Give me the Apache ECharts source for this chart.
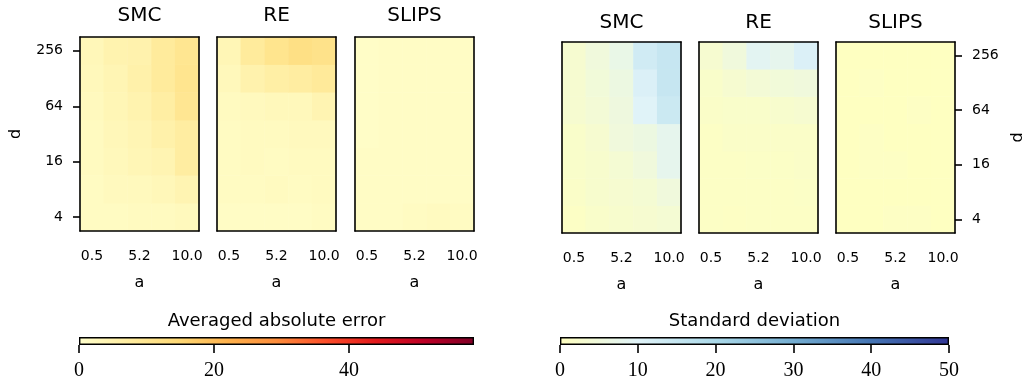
<!DOCTYPE html>
<html>
<head>
<meta charset="utf-8">
<script src="https://cdn.jsdelivr.net/npm/echarts@6/dist/echarts.min.js"></script>
<style>
  html, body { margin: 0; padding: 0; background: #fff; }
  #chart { width: 1026px; height: 379px; }
</style>
</head>
<body>
<div id="chart"></div>
<script>
// grid values: a along x, d along y (rows listed from d=4 up to d=256)
var aLabels = ['0.5', '2.9', '5.2', '7.6', '10.0'];
var dLabels = ['4', '8', '16', '32', '64', '128', '256'];
var methods = ['SMC', 'RE', 'SLIPS'];

var errSMC = [
  [1.6, 1.7, 2, 2, 2.5],
  [1.7, 2.4, 2.5, 3.2, 4.4],
  [2, 2.8, 3.6, 4.4, 7.2],
  [2, 3.2, 4, 5.6, 7.2],
  [2.4, 3.6, 4.8, 6.8, 9.8],
  [2.8, 4, 5.6, 8, 10.2],
  [3.2, 4.8, 5.2, 8, 10]
];
var errRE = [
  [1.2, 1.2, 1.2, 1.2, 1.6],
  [1.6, 1.6, 2, 1.6, 2],
  [1.6, 2, 1.6, 2, 2],
  [1.6, 2, 2, 2.4, 2.4],
  [2, 2.4, 2.8, 2.8, 4.4],
  [2.8, 5.2, 6.4, 7.2, 8.4],
  [3.6, 8, 10.4, 12, 11.2]
];
var errSLIPS = [
  [1.2, 1.2, 1.6, 2, 1.6],
  [1.2, 1.2, 1.2, 1.2, 1.2],
  [1.2, 1.2, 1.2, 1.2, 1.2],
  [0.8, 1.2, 1.2, 1.2, 1.2],
  [0.8, 1.2, 1.2, 1.2, 1.2],
  [0.8, 1.2, 1.2, 1.2, 1.2],
  [0.8, 1.2, 1.2, 1.2, 1.2]
];
var stdSMC = [
  [1, 2, 2.5, 3, 3.5],
  [1.5, 2.5, 3, 3.5, 5],
  [2, 2.5, 3.5, 5, 8],
  [2, 3, 5, 6, 8],
  [3, 4, 5.5, 10, 14],
  [3, 4.5, 6, 11, 15],
  [3, 5, 7, 13, 15]
];
var stdRE = [
  [1, 0.8, 1, 1, 1],
  [1, 1, 1, 1, 1.2],
  [1, 1, 1.2, 1.2, 1.5],
  [1, 1.5, 1.5, 1.5, 1.5],
  [1.5, 2, 2, 2.5, 3],
  [2, 3, 4, 4.5, 5],
  [3, 5, 9, 8, 11]
];
var stdSLIPS = [
  [0.3, 0.3, 0.8, 0.8, 0.3],
  [0.3, 0.3, 0.3, 0.3, 0.3],
  [0.3, 0.8, 0.8, 0.3, 0.3],
  [0.3, 0.8, 0.3, 0.3, 0.3],
  [0.3, 0.3, 0.3, 0.8, 0.3],
  [0.3, 0.8, 0.3, 0.3, 0.3],
  [0.3, 0.3, 0.3, 0.3, 0.3]
];

// colour bars
var errMax = 58.5;
var errTicks = [0, 20, 40];
var stdMax = 50;
var stdTicks = [0, 10, 20, 30, 40, 50];
var errColors = ['#ffffcc', '#ffeda0', '#fed976', '#feb24c', '#fd8d3c', '#fc4e2a', '#e31a1c', '#bd0026', '#800026'];
var stdColors = ['#ffffbf', '#e0f3f8', '#abd9e9', '#74add1', '#4575b4', '#313695'];

var SANS = 'DejaVu Sans';
var SERIF = 'Liberation Serif';

function toCells(m) {
  var out = [];
  m.forEach(function (row, j) {
    row.forEach(function (v, i) { out.push([i, j, v]); });
  });
  return out;
}
function stops(cols) {
  return cols.map(function (c, i) { return { offset: i / (cols.length - 1), color: c }; });
}

var panels = [
  { data: errSMC, left: 80, top: 37, h: 194, yLabels: 'left', tGap: 11 },
  { data: errRE, left: 217, top: 37, h: 194, yLabels: null, tGap: 11 },
  { data: errSLIPS, left: 355, top: 37, h: 194, yLabels: null, tGap: 11 },
  { data: stdSMC, left: 562, top: 42, h: 191, yLabels: null, tGap: 9 },
  { data: stdRE, left: 699, top: 42, h: 191, yLabels: null, tGap: 9 },
  { data: stdSLIPS, left: 836, top: 42, h: 191, yLabels: 'right', tGap: 9 }
];

var grids = [], xAxes = [], yAxes = [], series = [];
var lineStyle = { color: '#000', width: 1.6 };

panels.forEach(function (p, k) {
  var side = k < 3 ? 'left' : 'right';
  grids.push({ left: p.left, top: p.top, width: 119, height: p.h, outerBoundsMode: 'none' });
  xAxes.push({
    type: 'category', gridIndex: k, position: 'bottom', data: aLabels, z: 5,
    axisLine: { lineStyle: lineStyle },
    axisTick: { interval: 1, alignWithLabel: true, length: 7, lineStyle: lineStyle },
    axisLabel: { interval: 1, margin: 18, color: '#000', fontFamily: SANS, fontSize: 14 },
    name: 'a', nameLocation: 'middle', nameGap: 44,
    nameTextStyle: { color: '#000', fontFamily: SANS, fontSize: 16 }
  });
  xAxes.push({
    type: 'category', gridIndex: k, position: 'top', data: aLabels, z: 5,
    axisLine: { lineStyle: lineStyle }, axisTick: { show: false }, axisLabel: { show: false },
    name: methods[k % 3], nameLocation: 'middle', nameGap: p.tGap,
    nameTextStyle: { color: '#000', fontFamily: SANS, fontSize: 20 }
  });
  var withLabels = p.yLabels !== null;
  var main = {
    type: 'category', gridIndex: k, position: side, data: dLabels, z: 5,
    axisLine: { lineStyle: lineStyle },
    axisTick: { show: withLabels, interval: 1, alignWithLabel: true, length: 7, lineStyle: lineStyle },
    axisLabel: { show: withLabels, interval: 1, margin: 17, color: '#000', fontFamily: SANS, fontSize: 14 }
  };
  if (withLabels) {
    main.name = 'd';
    main.nameLocation = 'middle';
    main.nameGap = side === 'left' ? 56 : 55;
    main.nameRotate = 90;
    main.nameTextStyle = { color: '#000', fontFamily: SANS, fontSize: 16 };
  }
  yAxes.push(main);
  yAxes.push({
    type: 'category', gridIndex: k, position: side === 'left' ? 'right' : 'left', data: dLabels, z: 5,
    axisLine: { lineStyle: lineStyle }, axisTick: { show: false }, axisLabel: { show: false }
  });
  series.push({
    type: 'heatmap', xAxisIndex: 2 * k, yAxisIndex: 2 * k,
    data: toCells(p.data), itemStyle: { borderWidth: 0 }, emphasis: { disabled: true }
  });
});

// colour bar grids (indices 6 and 7)
var bars = [
  { left: 79, width: 395, max: errMax, ticks: errTicks, colors: errColors, title: 'Averaged absolute error' },
  { left: 560, width: 389, max: stdMax, ticks: stdTicks, colors: stdColors, title: 'Standard deviation' }
];
bars.forEach(function (b, n) {
  var g = 6 + n;
  grids.push({ left: b.left, top: 337, width: b.width, height: 8, outerBoundsMode: 'none' });
  var xi = xAxes.length;
  xAxes.push({
    type: 'value', gridIndex: g, min: 0, max: b.max, position: 'bottom', z: 5,
    splitLine: { show: false },
    axisLine: { show: false },
    axisTick: { show: true, customValues: b.ticks, length: 8, lineStyle: lineStyle },
    axisLabel: { customValues: b.ticks, margin: 16, color: '#000', fontFamily: SERIF, fontSize: 20 }
  });
  xAxes.push({
    type: 'value', gridIndex: g, min: 0, max: b.max, position: 'top',
    splitLine: { show: false }, axisLine: { show: false }, axisTick: { show: false }, axisLabel: { show: false },
    name: b.title, nameLocation: 'middle', nameGap: 7,
    nameTextStyle: { color: '#000', fontFamily: SANS, fontSize: 18 }
  });
  var yi = yAxes.length;
  yAxes.push({ type: 'category', gridIndex: g, data: [''], show: false });
  series.push({
    type: 'bar', xAxisIndex: xi, yAxisIndex: yi, data: [b.max], barWidth: '100%', silent: true,
    itemStyle: {
      color: { type: 'linear', x: 0, y: 0, x2: 1, y2: 0, colorStops: stops(b.colors) },
      borderColor: '#000', borderWidth: 1.4
    }
  });
});

var chart = echarts.init(document.getElementById('chart'), null, { renderer: 'canvas' });
chart.setOption({
  animation: false,
  backgroundColor: '#fff',
  grid: grids,
  xAxis: xAxes,
  yAxis: yAxes,
  visualMap: [
    { type: 'continuous', show: false, min: 0, max: errMax, seriesIndex: [0, 1, 2], inRange: { color: errColors } },
    { type: 'continuous', show: false, min: 0, max: stdMax, seriesIndex: [3, 4, 5], inRange: { color: stdColors } }
  ],
  series: series
});
</script>
</body>
</html>
